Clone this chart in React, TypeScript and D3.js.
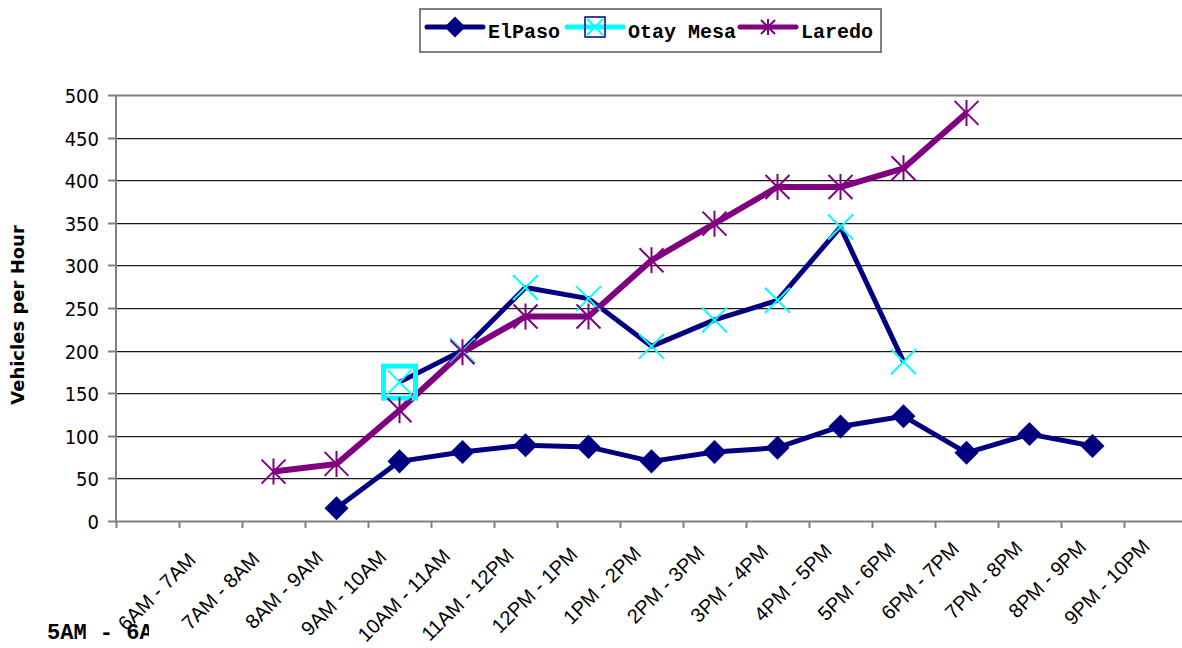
import * as d3 from "d3";
import React, {useEffect, useRef} from "react";

const categories = [
  "5AM - 6AM", "6AM - 7AM", "7AM - 8AM", "8AM - 9AM", "9AM - 10AM", "10AM - 11AM",
  "11AM - 12PM", "12PM - 1PM", "1PM - 2PM", "2PM - 3PM", "3PM - 4PM", "4PM - 5PM",
  "5PM - 6PM", "6PM - 7PM", "7PM - 8PM", "8PM - 9PM", "9PM - 10PM",
];

const elPaso: (number | null)[] = [null, null, null, 15, 70, 81, 89, 87, 70, 81, 86, 111, 123, 80, 102, 88, null];
const otayMesa: (number | null)[] = [null, null, null, null, 163, 200, 274, 261, 205, 236, 259, 345, 187, null, null, null, null];
const laredo: (number | null)[] = [null, null, 58, 67, 130, 198, 240, 240, 306, 349, 392, 392, 414, 479, null, null, null];

const yTicks = [0, 50, 100, 150, 200, 250, 300, 350, 400, 450, 500];
const seriesNames = ["ElPaso", "Otay Mesa", "Laredo"];

const NAVY = "#000080";
const CYAN = "#00ffff";
const PURPLE = "#800080";
const AXIS = "#808080";

// marker shapes, drawn around 0,0
function xPath(r: number) {
  const p = d3.path();
  p.moveTo(-r, -r); p.lineTo(r, r);
  p.moveTo(r, -r); p.lineTo(-r, r);
  return p.toString();
}
function starPath(r: number, v: number) {
  const p = d3.path();
  p.moveTo(-r, -r); p.lineTo(r, r);
  p.moveTo(r, -r); p.lineTo(-r, r);
  p.moveTo(0, -v); p.lineTo(0, v);
  return p.toString();
}
const diamond = d3.symbol(d3.symbolSquare, 289)();

const Chart: React.FC = () => {
  const ref = useRef<SVGSVGElement | null>(null);

  useEffect(() => {
    const svg = d3.select(ref.current);
    svg.selectAll("*").remove();
    const width = 1182;
    const height = 648;
    const plot = {left: 116, top: 95, bottom: 521, band: 63};

    const xScale = d3.scaleBand<string>()
      .domain(categories)
      .range([plot.left, plot.left + plot.band * categories.length])
      .padding(0);
    const yScale = d3.scaleLinear().domain([0, 500]).range([plot.bottom, plot.top]);
    const cx = (i: number) => (xScale(categories[i]) || 0) + xScale.bandwidth() / 2;

    svg.attr("width", width).attr("height", height);

    // gridlines
    const grid = svg.append("g");
    yTicks.filter((t) => t !== 0).forEach((t) => {
      const y = Math.round(yScale(t)) + 0.5;
      if (t === 500) {
        grid.append("line").attr("x1", plot.left).attr("x2", width).attr("y1", y).attr("y2", y)
          .attr("stroke", AXIS).attr("stroke-width", 2);
      } else {
        grid.append("line").attr("x1", plot.left).attr("x2", width).attr("y1", y).attr("y2", y)
          .attr("stroke", "#1a1a1a").attr("stroke-width", 1);
        grid.append("line").attr("x1", plot.left).attr("x2", width).attr("y1", y + 1).attr("y2", y + 1)
          .attr("stroke", "#c8c8c8").attr("stroke-width", 1);
      }
    });

    // y axis
    const yAxis = svg.append("g");
    yAxis.append("line").attr("x1", plot.left).attr("x2", plot.left)
      .attr("y1", plot.top).attr("y2", plot.bottom + 1).attr("stroke", AXIS).attr("stroke-width", 2);
    yTicks.forEach((t) => {
      const y = Math.round(yScale(t)) + 0.5;
      yAxis.append("line").attr("x1", plot.left - 8).attr("x2", plot.left).attr("y1", y).attr("y2", y)
        .attr("stroke", AXIS).attr("stroke-width", 2);
      yAxis.append("text").attr("x", 99).attr("y", y).attr("dy", "0.36em")
        .attr("text-anchor", "end")
        .style("font-family", "'DejaVu Sans Condensed', 'DejaVu Sans', sans-serif")
        .style("font-stretch", "condensed")
        .style("font-size", "20px").attr("fill", "#000").text(t);
    });
    svg.append("text")
      .attr("transform", `translate(24, 315) rotate(-90)`)
      .attr("text-anchor", "middle")
      .style("font-family", "'DejaVu Sans', sans-serif").style("font-weight", "bold")
      .style("font-size", "18px").text("Vehicles per Hour");

    // x axis
    const xAxis = svg.append("g");
    xAxis.append("line").attr("x1", plot.left - 1).attr("x2", width)
      .attr("y1", plot.bottom + 0.5).attr("y2", plot.bottom + 0.5).attr("stroke", AXIS).attr("stroke-width", 2);
    categories.forEach((c, i) => {
      const x0 = Math.round(xScale(c) || 0) + 0.5;
      xAxis.append("line").attr("x1", x0).attr("x2", x0).attr("y1", plot.bottom).attr("y2", plot.bottom + 7)
        .attr("stroke", AXIS).attr("stroke-width", 2);
      if (i === 0) return;
      // labels drift slightly up/right across the axis, as in the source image
      const ax = cx(i) - 14 + 0.6 * i;
      const ay = 562 - 0.9 * i;
      xAxis.append("text")
        .attr("transform", `translate(${ax}, ${ay}) rotate(-45)`)
        .attr("text-anchor", "end")
        .style("font-family", "'Liberation Sans', Arial, sans-serif")
        .style("font-size", "20px").text(c);
    });
    // first category label, drawn flat and cut off like the original
    svg.append("clipPath").attr("id", "firstcat").append("rect")
      .attr("x", 0).attr("y", 600).attr("width", 149).attr("height", 48);
    svg.append("text").attr("x", 47).attr("y", 639)
      .attr("clip-path", "url(#firstcat)")
      .style("font-family", "'Liberation Mono', 'Courier New', monospace").style("font-weight", "bold")
      .style("font-size", "22px").text(categories[0]);

    // lines
    const line = d3.line<number | null>()
      .defined((d) => d !== null)
      .x((_, i) => cx(i))
      .y((d) => yScale(d as number));

    const lines = svg.append("g").attr("fill", "none").attr("stroke-linejoin", "round");
    lines.append("path").attr("d", line(elPaso)).attr("stroke", NAVY).attr("stroke-width", 5);
    lines.append("path").attr("d", line(otayMesa)).attr("stroke", NAVY).attr("stroke-width", 5);
    lines.append("path").attr("d", line(laredo)).attr("stroke", PURPLE).attr("stroke-width", 6);

    // markers
    const markers = svg.append("g");
    elPaso.forEach((v, i) => {
      if (v === null) return;
      markers.append("path").attr("d", diamond)
        .attr("transform", `translate(${cx(i)},${yScale(v)}) rotate(45)`).attr("fill", NAVY);
    });
    let firstOtay = true;
    otayMesa.forEach((v, i) => {
      if (v === null) return;
      const g = markers.append("g").attr("transform", `translate(${cx(i)},${yScale(v)})`);
      if (firstOtay) {
        g.append("rect").attr("x", -16).attr("y", -16).attr("width", 32).attr("height", 32)
          .attr("fill", "none").attr("stroke", CYAN).attr("stroke-width", 5);
        g.append("path").attr("d", xPath(12)).attr("stroke", CYAN).attr("stroke-width", 2);
        firstOtay = false;
      } else {
        g.append("path").attr("d", xPath(12.5)).attr("stroke", CYAN).attr("stroke-width", 2);
      }
    });
    laredo.forEach((v, i) => {
      if (v === null) return;
      markers.append("path").attr("d", starPath(12, 13))
        .attr("transform", `translate(${cx(i)},${yScale(v)})`)
        .attr("stroke", PURPLE).attr("stroke-width", 2).attr("fill", "none");
    });

    // legend
    const legend = svg.append("g");
    legend.append("rect").attr("x", 420).attr("y", 9).attr("width", 461).attr("height", 43)
      .attr("fill", "#fff").attr("stroke", AXIS).attr("stroke-width", 2);
    const legendItems = [
      {lx: 427, tx: 488, color: NAVY},
      {lx: 567, tx: 628, color: CYAN},
      {lx: 740, tx: 801, color: PURPLE},
    ];
    legendItems.forEach((item, k) => {
      const ly = 27;
      const mx = item.lx + 28;
      legend.append("line").attr("x1", item.lx).attr("x2", item.lx + 56).attr("y1", ly).attr("y2", ly)
        .attr("stroke", item.color).attr("stroke-width", 5).attr("stroke-linecap", "round");
      if (k === 0) {
        legend.append("path").attr("d", d3.symbol(d3.symbolSquare, 225)())
          .attr("transform", `translate(${mx},${ly}) rotate(45)`).attr("fill", NAVY);
      } else if (k === 1) {
        legend.append("rect").attr("x", mx - 10).attr("y", ly - 10).attr("width", 20).attr("height", 20)
          .attr("fill", "none").attr("stroke", NAVY).attr("stroke-width", 1.5);
        legend.append("path").attr("d", xPath(8)).attr("transform", `translate(${mx},${ly})`)
          .attr("stroke", CYAN).attr("stroke-width", 2);
      } else {
        legend.append("path").attr("d", starPath(7, 8)).attr("transform", `translate(${mx},${ly})`)
          .attr("stroke", PURPLE).attr("stroke-width", 2);
      }
      legend.append("text").attr("x", item.tx).attr("y", 38)
        .style("font-family", "'Liberation Mono', 'Courier New', monospace").style("font-weight", "bold")
        .style("font-size", "20px").text(seriesNames[k]);
    });

    return () => {
      svg.selectAll("*").remove();
    };
  }, []);

  return <svg ref={ref} style={{position: "absolute", left: 0, top: 0, background: "#fff"}} />;
};

export default function App() {
  return <Chart />;
}
